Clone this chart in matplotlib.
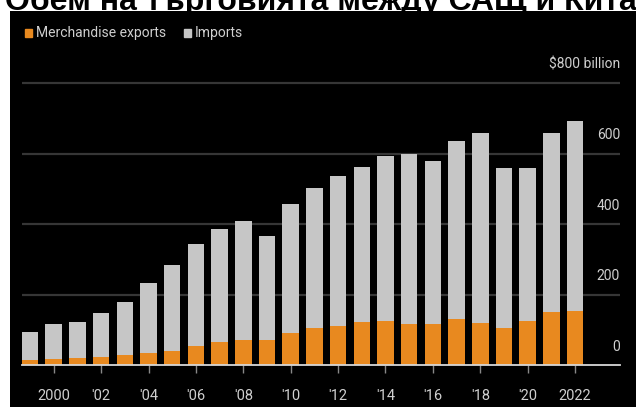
import matplotlib
matplotlib.use("Agg")
import matplotlib.pyplot as plt
from matplotlib.patches import Rectangle

years = list(range(1999, 2023))
exports = [13, 16, 19, 22, 28, 35, 41, 54, 65, 71, 70, 92, 104, 111, 122, 124,
           116, 116, 130, 120, 106, 124, 151, 154]
imports = [82, 100, 102, 125, 152, 197, 243, 288, 321, 338, 296, 365, 399, 426,
           440, 468, 483, 463, 505, 539, 452, 435, 506, 537]
xtick_years = [2000, 2002, 2004, 2006, 2008, 2010, 2012, 2014, 2016, 2018, 2020, 2022]
xtick_labels = ["2000", "'02", "'04", "'06", "'08", "'10", "'12", "'14", "'16", "'18", "'20", "2022"]
ygrid = [0, 200, 400, 600, 800]
ylabels = ["0", "200", "400", "600", "$800 billion"]
title = "Обем на търговията между САЩ и Китай"

ORANGE = "#e8891f"
GRAY = "#c6c6c6"
TXT = "#cfcfcf"
COND = ["Roboto", "DejaVu Sans"]

W, H = 636, 407
fig = plt.figure(figsize=(W / 100, H / 100), dpi=100, facecolor="white")
ax = fig.add_axes([10 / W, 0, 626 / W, (H - 11) / H])
ax.set_facecolor("black")

ax.set_xlim(1998.156, 2024.57)
ax.set_ylim(-119.1, 1004.3)

x_left, x_right = 1998.66, 2023.89

# gridlines
for v in ygrid:
    if v == 0:
        continue
    ax.hlines(v, x_left, x_right, color="#363636", lw=1.6, zorder=1)
for v, lab in zip(ygrid, ylabels):
    ax.annotate(lab, (x_right, v), xytext=(0, 8), textcoords="offset points",
                ha="right", va="bottom", color=TXT, fontsize=10, family=COND)

ax.bar(years, exports, width=0.7, color=ORANGE, zorder=2)
ax.bar(years, imports, width=0.7, bottom=exports, color=GRAY, zorder=2)

# baseline axis
for s in ["top", "right", "left"]:
    ax.spines[s].set_visible(False)
ax.spines["bottom"].set_position(("data", 0))
ax.spines["bottom"].set_bounds(x_left, x_right)
ax.spines["bottom"].set_color("#d8d8d8")
ax.spines["bottom"].set_linewidth(1.3)
ax.spines["bottom"].set_zorder(3)
ax.set_yticks([])
ax.set_xticks(xtick_years)
ax.set_xticklabels(xtick_labels, family=COND, fontsize=10.5, color=TXT)
ax.tick_params(axis="x", direction="out", length=6, width=1, color="#888888", pad=11)

# legend
lx = 15 / 626
ly = 1 - (33 - 11) / (H - 11)
sq_h = 8 / 396
ax.add_patch(Rectangle((lx, ly - sq_h / 2), 7 / 626, sq_h, transform=ax.transAxes,
                       color=ORANGE, clip_on=False))
ax.text(lx + 11 / 626, ly, "Merchandise exports", transform=ax.transAxes, va="center",
        ha="left", color=TXT, fontsize=10, family=COND)
gx = 174 / 626
ax.add_patch(Rectangle((gx, ly - sq_h / 2), 7 / 626, sq_h, transform=ax.transAxes,
                       color=GRAY, clip_on=False))
ax.text(gx + 11 / 626, ly, "Imports", transform=ax.transAxes, va="center",
        ha="left", color=TXT, fontsize=10, family=COND)

fig.text(5 / W, (H - 10) / H, title, ha="left", va="baseline", fontsize=23,
         fontweight="bold", color="black", family=["Liberation Sans", "DejaVu Sans"])

fig.savefig("out.png", dpi=100, facecolor="white")
